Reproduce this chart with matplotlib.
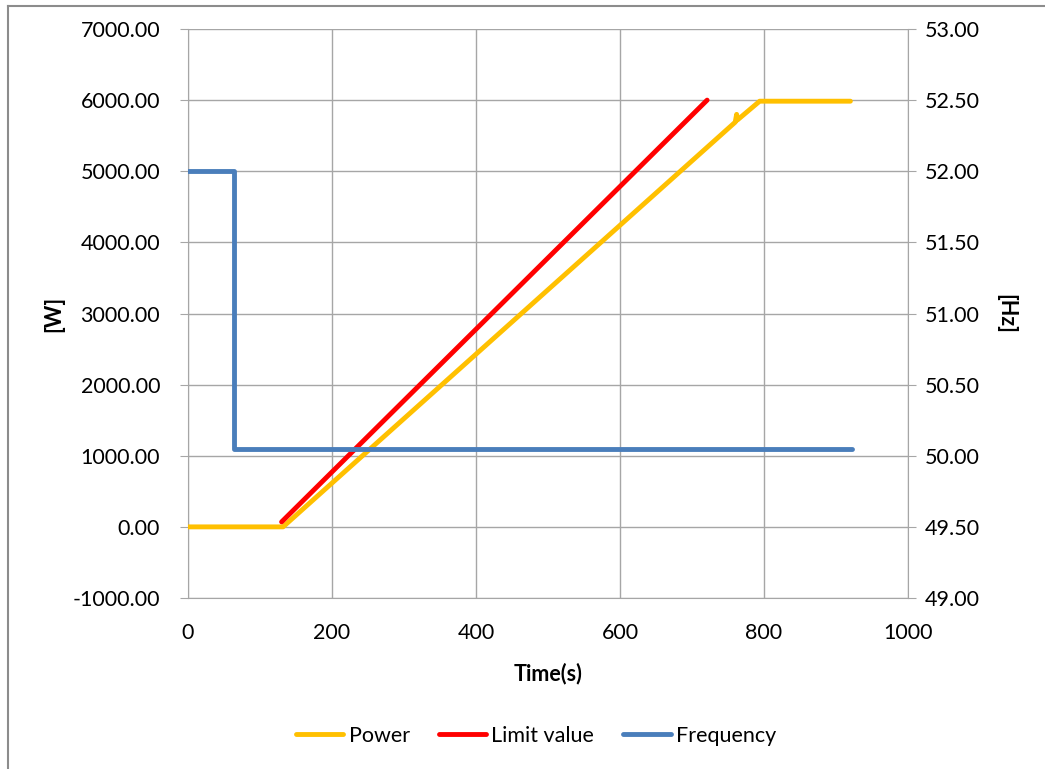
import matplotlib.pyplot as plt
from matplotlib.lines import Line2D
from matplotlib.ticker import FormatStrFormatter

plt.rcParams["font.family"] = ["Lato", "DejaVu Sans"]

# Power [W]
power_t = [0, 132, 760, 762, 763, 794, 920]
power_w = [0, 0, 5690, 5800, 5720, 5985, 5985]

# Limit value [W]
limit_t = [130, 721]
limit_w = [70, 6000]

# Frequency [Hz]
freq_t = [0, 64, 64, 922]
freq_hz = [52.0, 52.0, 50.05, 50.05]

GRID = "#a6a6a6"
FS = 15.5
LW = 3.5

fig = plt.figure(figsize=(10.45, 7.69), dpi=100)
ax = fig.add_axes([188 / 1045, 1 - 598 / 769, 720 / 1045, 569 / 769])
ax2 = ax.twinx()

ax.plot(power_t, power_w, color="#FFC000", lw=LW, solid_capstyle="round", label="Power", zorder=3)
ax.plot(limit_t, limit_w, color="#FF0000", lw=LW, solid_capstyle="round", label="Limit value", zorder=4)
ax2.plot(freq_t, freq_hz, color="#4A7EBB", lw=LW, solid_capstyle="round", label="Frequency")

ax.set_xlim(0, 1000)
ax.set_ylim(-1000, 7000)
ax2.set_ylim(49, 53)
ax.set_xticks(range(0, 1001, 200))
ax.set_yticks(range(-1000, 7001, 1000))
ax2.set_yticks([49 + 0.5 * i for i in range(9)])
ax.yaxis.set_major_formatter(FormatStrFormatter("%.2f"))
ax2.yaxis.set_major_formatter(FormatStrFormatter("%.2f"))

ax.grid(True, color=GRID, lw=1.0)
ax.set_axisbelow(True)
for a in (ax, ax2):
    for s in a.spines.values():
        s.set_visible(False)
ax.spines["left"].set_visible(True)
ax.spines["left"].set_color(GRID)
ax.spines["bottom"].set_visible(True)
ax.spines["bottom"].set_color(GRID)
ax2.spines["right"].set_visible(True)
ax2.spines["right"].set_color(GRID)

ax.tick_params(axis="y", length=6, color=GRID, labelsize=FS, pad=14)
ax.tick_params(axis="x", length=0, labelsize=FS, pad=18)
ax2.tick_params(axis="y", length=6, color=GRID, labelsize=FS, pad=6)

ax.set_xlabel("Time(s)", fontsize=FS, fontweight="bold", labelpad=14)
ax.set_ylabel("[W]", fontsize=FS, fontweight="bold", labelpad=6)
ax2.set_ylabel("[Hz]", fontsize=FS, fontweight="bold", rotation=270, labelpad=26)

handles = [
    Line2D([], [], color="#FFC000", lw=LW, solid_capstyle="round"),
    Line2D([], [], color="#FF0000", lw=LW, solid_capstyle="round"),
    Line2D([], [], color="#4A7EBB", lw=LW, solid_capstyle="round"),
]
fig.legend(handles, ["Power", "Limit value", "Frequency"], loc="center",
           bbox_to_anchor=(0.513, 1 - 736 / 769), ncol=3, frameon=False,
           fontsize=FS, handlelength=2.2, handletextpad=0.25, columnspacing=1.35)

# outer chart frame
fig.add_artist(Line2D([8 / 1045, 8 / 1045], [0, 1 - 6 / 769], color="#8c8c8c", lw=1.5))
fig.add_artist(Line2D([8 / 1045, 1], [1 - 6 / 769, 1 - 6 / 769], color="#8c8c8c", lw=1.5))

fig.savefig("out.png", dpi=100)
